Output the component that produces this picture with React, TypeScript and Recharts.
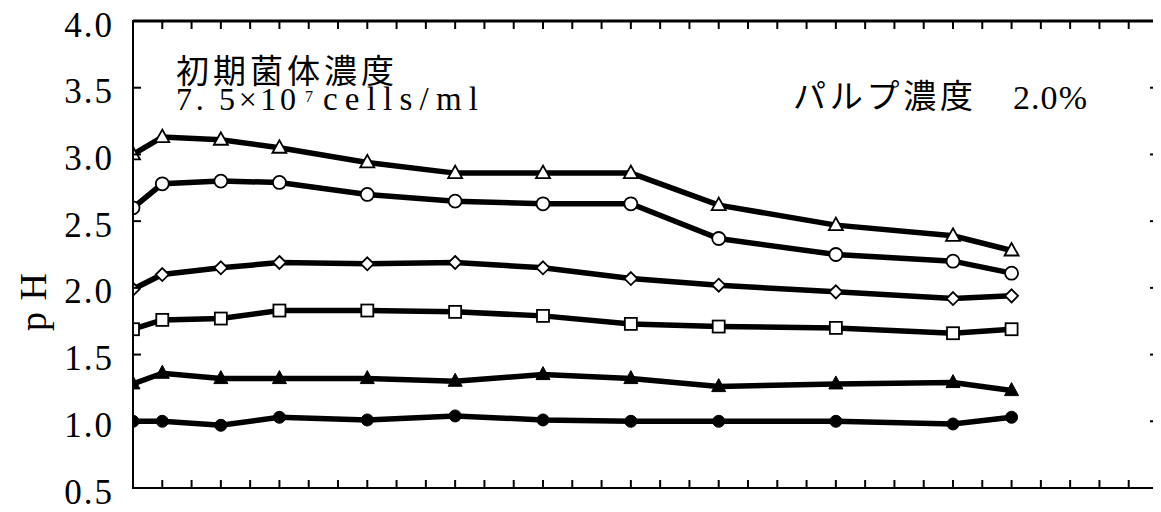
import React from 'react';
import { LineChart, Line, XAxis, YAxis, ReferenceLine } from 'recharts';

const xValues = [0, 1, 3, 5, 8, 11, 14, 17, 20, 24, 28, 30];
const openTriangle = [3.0, 3.13, 3.11, 3.05, 2.94, 2.86, 2.86, 2.86, 2.62, 2.47, 2.39, 2.28];
const openCircle = [2.6, 2.78, 2.8, 2.79, 2.7, 2.65, 2.63, 2.63, 2.37, 2.25, 2.2, 2.11];
const openDiamond = [1.99, 2.1, 2.15, 2.19, 2.18, 2.19, 2.15, 2.07, 2.02, 1.97, 1.92, 1.94];
const openSquare = [1.69, 1.76, 1.77, 1.83, 1.83, 1.82, 1.79, 1.73, 1.71, 1.7, 1.66, 1.69];
const filledTriangle = [1.28, 1.36, 1.32, 1.32, 1.32, 1.3, 1.35, 1.32, 1.26, 1.28, 1.29, 1.23];
const filledCircle = [1.0, 1.0, 0.97, 1.03, 1.01, 1.04, 1.01, 1.0, 1.0, 1.0, 0.98, 1.03];

const yTicks = [0.5, 1.0, 1.5, 2.0, 2.5, 3.0, 3.5, 4.0];
const xTicks = Array.from({ length: 36 }, (_, i) => i);

const data = xValues.map((x, i) => ({
  x,
  a: openTriangle[i],
  b: openCircle[i],
  c: openDiamond[i],
  d: openSquare[i],
  e: filledTriangle[i],
  f: filledCircle[i],
}));

const W = 1153;
const H = 496;
const M = { top: 13, right: 3, bottom: 15, left: 0 };
const Y_AXIS_W = 125;
const X_AXIS_H = 1;
const PLOT_X = M.left + Y_AXIS_W;
const PLOT_Y = M.top;
const PLOT_W = W - M.left - M.right - Y_AXIS_W;
const PLOT_H = H - M.top - M.bottom - X_AXIS_H;
const X_DOMAIN = [0, 35];
const Y_DOMAIN = [0.5, 4];
const sx = (v: number) => PLOT_X + ((v - X_DOMAIN[0]) / (X_DOMAIN[1] - X_DOMAIN[0])) * PLOT_W;
const sy = (v: number) => PLOT_Y + PLOT_H - ((v - Y_DOMAIN[0]) / (Y_DOMAIN[1] - Y_DOMAIN[0])) * PLOT_H;

const serif = '"Liberation Serif", "DejaVu Serif", serif';
const cjk = '"Noto Sans CJK JP", sans-serif';

const makeDot = (kind: string) => (props: any) => {
  const { cx, cy, index } = props;
  if (cx == null || cy == null) return <g key={index} />;
  const sw = 1.8;
  switch (kind) {
    case 'openTri':
      return (
        <polygon key={index} points={`${cx},${cy - 7.5} ${cx - 7},${cy + 5} ${cx + 7},${cy + 5}`} fill="#fff" stroke="#000" strokeWidth={sw} />
      );
    case 'openCircle':
      return <circle key={index} cx={cx} cy={cy} r={6.5} fill="#fff" stroke="#000" strokeWidth={sw} />;
    case 'diamond':
      return (
        <polygon key={index} points={`${cx},${cy - 6.5} ${cx + 6.5},${cy} ${cx},${cy + 6.5} ${cx - 6.5},${cy}`} fill="#fff" stroke="#000" strokeWidth={sw} />
      );
    case 'square':
      return <rect key={index} x={cx - 6} y={cy - 6} width={12} height={12} fill="#fff" stroke="#000" strokeWidth={sw} />;
    case 'filledTri':
      return (
        <polygon key={index} points={`${cx},${cy - 8} ${cx - 7},${cy + 5} ${cx + 7},${cy + 5}`} fill="#000" stroke="#000" strokeWidth={1} />
      );
    default:
      return <circle key={index} cx={cx} cy={cy} r={6} fill="#000" stroke="#000" />;
  }
};

const LeftTick = (props: any) => {
  const { x, y, payload } = props;
  const v = payload.value as number;
  const showLine = v > 0.5 && v < 4.0;
  return (
    <g>
      {showLine && <line x1={x} y1={y} x2={x + 8} y2={y} stroke="#000" strokeWidth={2} />}
      <text x={x - 19} y={y + 4} textAnchor="end" dominantBaseline="central" fontFamily={serif} fontSize={35} letterSpacing={2} fill="#000">
        {v.toFixed(1)}
      </text>
    </g>
  );
};

const BottomTick = (props: any) => {
  const { x, y, payload } = props;
  const v = payload.value as number;
  if (v <= 0 || v >= 35) return <g />;
  return <line x1={x} y1={y} x2={x} y2={y - 8} stroke="#000" strokeWidth={2} />;
};

const series = [
  { key: 'a', kind: 'openTri' },
  { key: 'b', kind: 'openCircle' },
  { key: 'c', kind: 'diamond' },
  { key: 'd', kind: 'square' },
  { key: 'e', kind: 'filledTri' },
  { key: 'f', kind: 'filledCircle' },
];

export default function App() {
  const axisLine = { stroke: '#000', strokeWidth: 2 };
  return (
    <div style={{ position: 'relative', width: W, height: H, background: '#fff' }}>
      <LineChart width={W} height={H} data={data} margin={M}>
        <XAxis
          dataKey="x"
          type="number"
          domain={X_DOMAIN}
          ticks={xTicks}
          interval={0}
          height={X_AXIS_H}
          tickSize={0}
          tickMargin={0}
          tickLine={false}
          axisLine={axisLine}
          tick={<BottomTick />}
          allowDataOverflow
        />
        <YAxis
          type="number"
          domain={Y_DOMAIN}
          ticks={yTicks}
          interval={0}
          width={Y_AXIS_W}
          tickSize={0}
          tickMargin={0}
          tickLine={false}
          axisLine={axisLine}
          tick={<LeftTick />}
          allowDataOverflow
        />
        <ReferenceLine y={4} stroke="#000" strokeWidth={3} ifOverflow="visible" />
        <ReferenceLine x={35} stroke="#000" strokeWidth={3} ifOverflow="visible" />
        {series.map((s) => (
          <Line
            key={s.key}
            dataKey={s.key}
            type="linear"
            stroke="#000"
            strokeWidth={5.5}
            dot={makeDot(s.kind)}
            activeDot={false}
            isAnimationActive={false}
          />
        ))}
      </LineChart>
      <svg width={W} height={H} style={{ position: 'absolute', left: 0, top: 0, pointerEvents: 'none', overflow: 'visible' }}>
        <rect x={PLOT_X} y={PLOT_Y} width={PLOT_W} height={PLOT_H} fill="none" stroke="#000" strokeWidth={2} />
        {xTicks
          .filter((t) => t > X_DOMAIN[0] && t < X_DOMAIN[1])
          .map((t) => (
            <line key={`tt${t}`} x1={sx(t)} y1={PLOT_Y} x2={sx(t)} y2={PLOT_Y + 8} stroke="#000" strokeWidth={2} />
          ))}
        {yTicks
          .filter((t) => t > Y_DOMAIN[0] && t < Y_DOMAIN[1])
          .map((t) => (
            <line key={`rt${t}`} x1={PLOT_X + PLOT_W} y1={sy(t)} x2={PLOT_X + PLOT_W - 8} y2={sy(t)} stroke="#000" strokeWidth={2} />
          ))}
        <text x={168} y={75} fontFamily={cjk} fontSize={33} textLength={218} lengthAdjust="spacing" fill="#000">
          初期菌体濃度
        </text>
        <text x={168} y={102} fontFamily={serif} fontSize={32} textLength={120} lengthAdjust="spacing" fill="#000">
          7. 5×10
        </text>
        <text x={297} y={94} fontFamily={serif} fontSize={16} fill="#000">
          7
        </text>
        <text x={315} y={102} fontFamily={serif} fontSize={33} textLength={155} lengthAdjust="spacing" fill="#000">
          cells/ml
        </text>
        <text x={785} y={100} fontFamily={cjk} fontSize={33} textLength={180} lengthAdjust="spacing" fill="#000">
          パルプ濃度
        </text>
        <text x={1005} y={101} fontFamily={serif} fontSize={34} textLength={74} lengthAdjust="spacing" fill="#000">
          2.0%
        </text>
        <text
          x={0}
          y={0}
          transform="translate(25,294) rotate(-90)"
          textAnchor="middle"
          dominantBaseline="central"
          fontFamily={serif}
          fontSize={38}
          textLength={58}
          lengthAdjust="spacing"
          fill="#000"
        >
          pH
        </text>
      </svg>
    </div>
  );
}
